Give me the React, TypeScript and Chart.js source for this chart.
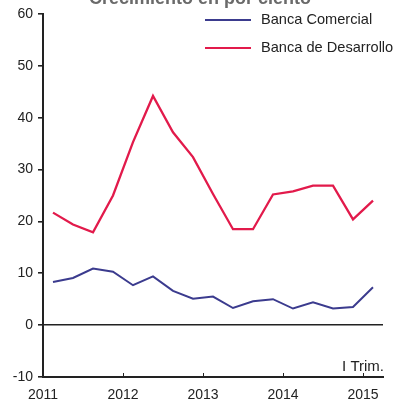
import React, { useEffect, useRef } from "react";
import { Chart, registerables } from "chart.js";

Chart.register(...registerables);

const yearLabels = ["2011", "2012", "2013", "2014", "2015"];
const comercial = [8.3, 9.1, 10.9, 10.3, 7.7, 9.4, 6.6, 5.1, 5.5, 3.3, 4.6, 5.0, 3.2, 4.4, 3.2, 3.5, 7.3];
const desarrollo = [21.7, 19.4, 17.9, 25.0, 35.3, 44.2, 37.2, 32.4, 25.3, 18.5, 18.5, 25.2, 25.8, 26.9, 26.9, 20.4, 24.0];
const seriesNames = ["Banca Comercial", "Banca de Desarrollo"];
const titleText = "Crecimiento en por ciento";
const periodNote = "I Trim.";

const BLUE = "#3b3b8e";
const RED = "#e21a4b";
const FONT = "'Liberation Sans', Arial, sans-serif";

export default function App() {
  const ref = useRef<HTMLCanvasElement | null>(null);
  useEffect(() => {
    if (!ref.current) return;
    const pts = (arr: number[]) => arr.map((v, i) => ({ x: i + 0.5, y: v }));
    const overlay = {
      id: "overlay",
      afterDraw(chart: any) {
        const ctx = chart.ctx;
        const a = chart.chartArea;
        const xs = chart.scales.x;
        ctx.save();
        ctx.strokeStyle = "#222";
        ctx.lineWidth = 1;
        [0, 4, 8, 12, 16].forEach((v) => {
          const px = Math.round(xs.getPixelForValue(v)) + 0.5;
          ctx.beginPath();
          ctx.moveTo(px, a.bottom);
          ctx.lineTo(px, a.bottom - 4);
          ctx.stroke();
        });
        ctx.fillStyle = "#6a6a6a";
        ctx.font = `bold 18px ${FONT}`;
        ctx.textAlign = "center";
        ctx.textBaseline = "alphabetic";
        ctx.fillText(titleText, 200, 4);
        const items = [
          { c: BLUE, t: seriesNames[0], y: 20 },
          { c: RED, t: seriesNames[1], y: 48 },
        ];
        ctx.font = `14.6px ${FONT}`;
        ctx.textAlign = "left";
        ctx.textBaseline = "middle";
        items.forEach((it) => {
          ctx.strokeStyle = it.c;
          ctx.lineWidth = 2;
          ctx.beginPath();
          ctx.moveTo(205, it.y);
          ctx.lineTo(251, it.y);
          ctx.stroke();
          ctx.fillStyle = "#222";
          ctx.fillText(it.t, 261, it.y);
        });
        ctx.textAlign = "right";
        ctx.textBaseline = "alphabetic";
        ctx.font = `15px ${FONT}`;
        ctx.fillText(periodNote, 384, 371);
        ctx.restore();
      },
    };
    const chart = new Chart(ref.current, {
      type: "line",
      data: {
        datasets: [
          { label: seriesNames[0], data: pts(comercial), borderColor: BLUE, borderWidth: 2, pointRadius: 0, tension: 0 },
          { label: seriesNames[1], data: pts(desarrollo), borderColor: RED, borderWidth: 2.3, pointRadius: 0, tension: 0 },
        ],
      },
      options: {
        animation: false,
        responsive: false,
        maintainAspectRatio: false,
        layout: { padding: { top: 14, right: 15, left: 0, bottom: 0 } },
        plugins: { legend: { display: false }, tooltip: { enabled: false } },
        scales: {
          x: {
            type: "linear",
            min: 0,
            max: 17,
            afterFit: (s: any) => { s.height = 24; },
            afterBuildTicks: (s: any) => { s.ticks = [0, 4, 8, 12, 16].map((v) => ({ value: v })); },
            ticks: {
              autoSkip: false,
              maxRotation: 0,
              padding: 2,
              color: "#222",
              font: { family: FONT, size: 14 },
              callback: (v: any) => yearLabels[Math.round(Number(v) / 4)] ?? "",
            },
            grid: { display: false },
            border: { display: true, color: "#222", width: 2 },
          },
          y: {
            min: -10,
            max: 60,
            afterFit: (s: any) => { s.width = 43; },
            ticks: {
              stepSize: 10,
              padding: 5,
              color: "#222",
              font: { family: FONT, size: 14 },
            },
            grid: {
              drawOnChartArea: true,
              drawTicks: true,
              tickLength: 5,
              tickColor: "#222",
              lineWidth: 1.6,
              color: (c: any) => (c.tick && c.tick.value === 0 ? "#222" : "rgba(0,0,0,0)"),
            },
            border: { display: true, color: "#222", width: 2 },
          },
        },
      },
      plugins: [overlay],
    } as any);
    return () => chart.destroy();
  }, []);
  return (
    <div style={{ position: "fixed", left: 0, top: 0, width: 398, height: 401, background: "#fff" }}>
      <canvas ref={ref} width={398} height={401} style={{ width: 398, height: 401 }} />
    </div>
  );
}
